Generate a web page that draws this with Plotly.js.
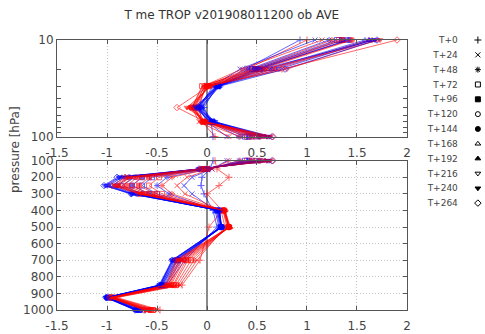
<!DOCTYPE html>
<html>
<head>
<meta charset="utf-8">
<script src="https://cdn.plot.ly/plotly-3.0.1.min.js"></script>
<style>html,body{margin:0;padding:0;background:#fff;}#chart{width:485px;height:334px;}</style>
</head>
<body>
<div id="chart"></div>
<script>
// Pressure levels (hPa)
const levels = [10, 20, 30, 50, 70, 100, 150, 200, 250, 300, 400, 500, 700, 850, 925, 1000];
// Forecast lead times
const leadTimes = ["T+0", "T+24", "T+48", "T+72", "T+96", "T+120", "T+144", "T+168", "T+192", "T+216", "T+240", "T+264"];
const leadSymbols = ["cross-thin-open", "x-thin-open", "asterisk-open", "square-open", "square", "circle-open", "circle", "triangle-up-open", "triangle-up", "triangle-down-open", "triangle-down", "diamond-open"];

// Blue experiment: mean T departure per lead time, per level
const blueT0   = [0.93, 0.38, 0.10, -0.03, 0.04, 0.06, 0.03, -0.05, -0.06, -0.03, 0.06, 0.10, -0.22, -0.40, -0.95, -0.62];
const blueT24  = [1.08, 0.33, 0.06, -0.08, 0.00, 0.20, 0.05, -0.15, -0.23, -0.15, 0.08, 0.12, -0.25, -0.42, -0.97, -0.64];
const blueT48  = [1.22, 0.42, 0.08, -0.10, 0.02, 0.32, 0.02, -0.40, -0.50, -0.38, 0.09, 0.13, -0.27, -0.43, -0.98, -0.66];
const blueT72  = [1.30, 0.45, 0.10, -0.12, 0.03, 0.38, 0.00, -0.55, -0.65, -0.50, 0.10, 0.14, -0.29, -0.44, -0.99, -0.67];
const blueT96  = [1.35, 0.48, 0.11, -0.06, 0.05, 0.42, -0.02, -0.65, -0.75, -0.58, 0.10, 0.14, -0.30, -0.45, -0.99, -0.68];
const blueT120 = [1.40, 0.53, 0.09, -0.10, 0.04, 0.48, -0.03, -0.72, -0.85, -0.65, 0.11, 0.15, -0.31, -0.45, -1.00, -0.69];
const blueT144 = [1.42, 0.50, 0.12, -0.13, 0.06, 0.52, -0.05, -0.78, -0.90, -0.70, 0.11, 0.15, -0.32, -0.46, -1.00, -0.70];
const blueT168 = [1.58, 0.60, 0.10, -0.08, 0.05, 0.55, -0.05, -0.82, -0.95, -0.72, 0.12, 0.15, -0.33, -0.46, -1.00, -0.70];
const blueT192 = [1.62, 0.65, 0.12, -0.05, 0.07, 0.58, -0.06, -0.85, -0.98, -0.74, 0.12, 0.14, -0.34, -0.47, -1.00, -0.71];
const blueT216 = [1.65, 0.72, 0.11, -0.09, 0.06, 0.60, -0.07, -0.87, -1.00, -0.75, 0.12, 0.14, -0.34, -0.47, -1.01, -0.71];
const blueT240 = [1.68, 0.55, 0.12, -0.11, 0.08, 0.62, -0.08, -0.88, -1.02, -0.76, 0.13, 0.14, -0.35, -0.47, -1.01, -0.72];
const blueT264 = [1.70, 0.78, 0.13, -0.07, 0.07, 0.65, -0.08, -0.90, -1.03, -0.76, 0.13, 0.14, -0.35, -0.48, -1.01, -0.72];

// Red experiment
const redT0   = [1.00, 0.40, -0.02, -0.08, -0.05, 0.08, 0.10, 0.22, 0.12, 0.00, 0.15, 0.02, -0.07, -0.25, -0.90, -0.47];
const redT24  = [1.15, 0.35, -0.04, -0.15, -0.08, 0.22, 0.05, -0.20, -0.30, -0.22, 0.14, 0.18, -0.10, -0.27, -0.92, -0.50];
const redT48  = [1.25, 0.45, -0.03, -0.12, -0.06, 0.33, 0.02, -0.35, -0.45, -0.35, 0.16, 0.20, -0.13, -0.29, -0.93, -0.52];
const redT72  = [1.32, 0.48, -0.05, -0.15, -0.04, 0.40, 0.00, -0.48, -0.58, -0.45, 0.16, 0.21, -0.16, -0.31, -0.94, -0.54];
const redT96  = [1.36, 0.50, 0.00, -0.10, -0.03, 0.45, -0.02, -0.58, -0.68, -0.52, 0.17, 0.22, -0.19, -0.33, -0.95, -0.56];
const redT120 = [1.43, 0.52, -0.02, -0.14, -0.05, 0.50, -0.03, -0.65, -0.75, -0.57, 0.17, 0.22, -0.21, -0.34, -0.95, -0.57];
const redT144 = [1.45, 0.55, 0.02, -0.16, -0.02, 0.53, -0.04, -0.70, -0.80, -0.60, 0.17, 0.22, -0.23, -0.36, -0.96, -0.58];
const redT168 = [1.62, 0.62, 0.00, -0.12, -0.04, 0.56, -0.05, -0.74, -0.85, -0.63, 0.18, 0.23, -0.25, -0.37, -0.96, -0.59];
const redT192 = [1.65, 0.68, 0.03, -0.18, -0.02, 0.58, -0.05, -0.77, -0.88, -0.65, 0.18, 0.23, -0.27, -0.38, -0.97, -0.60];
const redT216 = [1.70, 0.80, 0.01, -0.14, -0.03, 0.60, -0.06, -0.79, -0.90, -0.66, 0.18, 0.22, -0.28, -0.39, -0.97, -0.61];
const redT240 = [1.73, 0.58, 0.04, -0.20, -0.01, 0.63, -0.06, -0.80, -0.92, -0.67, 0.17, 0.22, -0.30, -0.40, -0.97, -0.62];
const redT264 = [1.90, 0.75, 0.02, -0.30, -0.02, 0.66, -0.07, -0.82, -0.95, -0.68, 0.17, 0.22, -0.31, -0.41, -0.97, -0.63];

const blueSeries = [blueT0, blueT24, blueT48, blueT72, blueT96, blueT120, blueT144, blueT168, blueT192, blueT216, blueT240, blueT264];
const redSeries  = [redT0, redT24, redT48, redT72, redT96, redT120, redT144, redT168, redT192, redT216, redT240, redT264];

// Tick labels
const xTickVals = [-1.5, -1, -0.5, 0, 0.5, 1, 1.5, 2];
const xTickText = ["-1.5", "-1", "-0.5", "0", "0.5", "1", "1.5", "2"];
const topYTickVals = [10, 20, 30, 40, 50, 60, 70, 80, 90, 100];
const topYTickText = ["10", "", "", "", "", "", "", "", "", "100"];
const botYTickVals = [100, 200, 300, 400, 500, 600, 700, 800, 900, 1000];
const botYTickText = ["100", "200", "300", "400", "500", "600", "700", "800", "900", "1000"];

const splitIdx = levels.indexOf(100);
const topLevels = levels.slice(0, splitIdx + 1);
const botLevels = levels.slice(splitIdx);

const traces = [];
function addSeries(vals, color, sym) {
  const common = {
    type: 'scatter', mode: 'lines+markers', showlegend: false, opacity: 0.6,
    line: {color: color, width: 1},
    marker: {symbol: sym, size: 5, color: color, line: {color: color, width: 1}},
    hoverinfo: 'skip'
  };
  traces.push(Object.assign({}, common, {x: vals.slice(0, splitIdx + 1), y: topLevels, xaxis: 'x', yaxis: 'y', cliponaxis: false}));
  traces.push(Object.assign({}, common, {x: vals.slice(splitIdx), y: botLevels, xaxis: 'x2', yaxis: 'y2', cliponaxis: false}));
}
for (let i = 0; i < leadTimes.length; i++) {
  addSeries(blueSeries[i], '#0000ff', leadSymbols[i]);
  addSeries(redSeries[i], '#ff0000', leadSymbols[i]);
}

// Legend drawn as its own small axis: labels as tick text, symbols as markers
const legendIdx = leadTimes.map((_, i) => i);
traces.push({
  type: 'scatter', mode: 'markers', showlegend: false, xaxis: 'x3', yaxis: 'y3',
  x: leadTimes.map(() => 0.9), y: legendIdx, cliponaxis: false,
  marker: {symbol: leadSymbols, size: 5, color: '#000', line: {color: '#000', width: 1}},
  hoverinfo: 'skip'
});

const gridCol = '#c4c4c4';
const axCol = '#555';
const tickFont = {family: 'DejaVu Sans, sans-serif', size: 12, color: '#444'};

function xAxis(anchor) {
  return {
    anchor: anchor, domain: [0, 0.8274], range: [-1.5, 2],
    tickvals: xTickVals, ticktext: xTickText,
    showgrid: true, gridcolor: gridCol, griddash: '1px,2px', gridwidth: 1,
    zeroline: true, zerolinecolor: '#8a8a8a', zerolinewidth: 1.5,
    showline: true, linecolor: axCol, linewidth: 1, mirror: 'ticks',
    ticks: 'inside', ticklen: 4, tickcolor: axCol, ticklabelstandoff: 5,
    tickfont: tickFont
  };
}

const layout = {
  width: 485, height: 334,
  margin: {l: 57, r: 5, t: 40, b: 24},
  paper_bgcolor: '#fff', plot_bgcolor: '#fff',
  font: {family: 'DejaVu Sans, sans-serif', color: '#444'},
  title: {text: 'T me TROP v201908011200 ob AVE', font: {size: 12, color: '#333'}, x: 0.478, xanchor: 'center', y: 0.955, yanchor: 'middle'},
  xaxis: xAxis('y'),
  xaxis2: xAxis('y2'),
  yaxis: {
    anchor: 'x', domain: [0.642, 1], type: 'log', range: [2, 1],
    tickvals: topYTickVals, ticktext: topYTickText,
    showgrid: false, zeroline: false,
    showline: true, linecolor: axCol, linewidth: 1, mirror: 'ticks',
    ticks: 'inside', ticklen: 4, tickcolor: axCol, tickfont: tickFont
  },
  yaxis2: {
    anchor: 'x2', domain: [0, 0.553], range: [1000, 100],
    tickvals: botYTickVals, ticktext: botYTickText,
    showgrid: true, gridcolor: gridCol, griddash: '1px,2px', gridwidth: 1, zeroline: false,
    showline: true, linecolor: axCol, linewidth: 1, mirror: 'ticks',
    ticks: 'inside', ticklen: 4, tickcolor: axCol, tickfont: tickFont
  },
  xaxis3: {anchor: 'y3', domain: [0.95, 1], range: [0, 1], visible: false, fixedrange: true},
  yaxis3: {
    anchor: 'x3', domain: [0.396, 1], range: [11, 0],
    tickvals: legendIdx, ticktext: leadTimes,
    showgrid: false, zeroline: false, showline: false, ticks: '',
    tickfont: {family: 'DejaVu Sans, sans-serif', size: 9, color: '#444'}, fixedrange: true
  },
  annotations: [{
    text: 'pressure [hPa]', textangle: -90, xref: 'paper', yref: 'paper',
    x: -0.099, y: 0.593, xanchor: 'center', yanchor: 'middle', showarrow: false,
    font: {family: 'DejaVu Sans, sans-serif', size: 12, color: '#444'}
  }],
  showlegend: false
};

Plotly.newPlot('chart', traces, layout, {staticPlot: true, displayModeBar: false});
</script>
</body>
</html>
